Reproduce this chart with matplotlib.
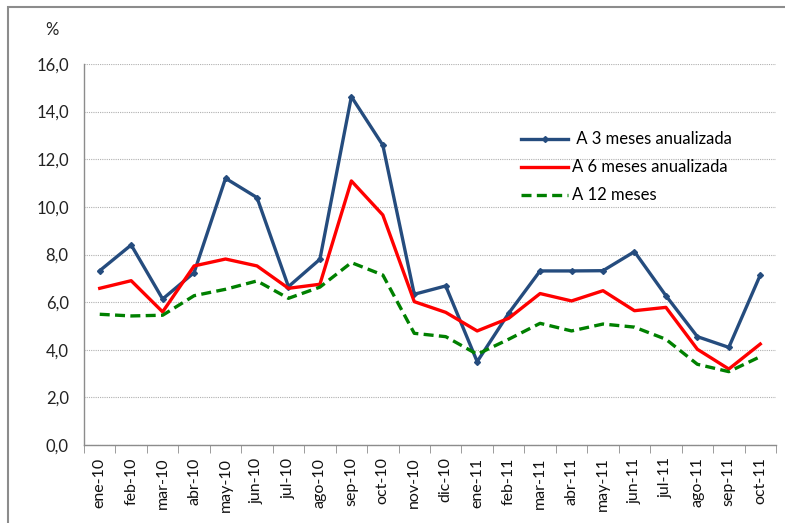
import matplotlib.pyplot as plt
from matplotlib.patches import Rectangle

plt.rcParams['font.family'] = ['Lato', 'DejaVu Sans']

# Datos
meses = ['ene-10', 'feb-10', 'mar-10', 'abr-10', 'may-10', 'jun-10', 'jul-10', 'ago-10',
         'sep-10', 'oct-10', 'nov-10', 'dic-10', 'ene-11', 'feb-11', 'mar-11', 'abr-11',
         'may-11', 'jun-11', 'jul-11', 'ago-11', 'sep-11', 'oct-11']
a3_meses = [7.32, 8.40, 6.13, 7.24, 11.20, 10.39, 6.65, 7.80, 14.63, 12.59, 6.33, 6.68,
            3.50, 5.53, 7.31, 7.31, 7.32, 8.12, 6.27, 4.55, 4.10, 7.14]
a6_meses = [6.58, 6.90, 5.59, 7.52, 7.81, 7.52, 6.58, 6.75, 11.09, 9.66, 6.02, 5.57,
            4.79, 5.32, 6.36, 6.05, 6.48, 5.64, 5.78, 4.02, 3.19, 4.24]
a12_meses = [5.49, 5.42, 5.45, 6.27, 6.54, 6.89, 6.16, 6.63, 7.66, 7.14, 4.69, 4.55,
             3.81, 4.44, 5.11, 4.79, 5.08, 4.95, 4.44, 3.39, 3.08, 3.71]
yticks = [0, 2, 4, 6, 8, 10, 12, 14, 16]

fig = plt.figure(figsize=(7.85, 5.23), dpi=100)
ax = fig.add_axes([84 / 785, 1 - 445 / 523, 692 / 785, 381 / 523])

# Marco exterior (recortado a la derecha y abajo)
fig.patches.append(Rectangle((8 / 785, -0.1), 1.2, 1 - 7 / 523 + 0.1, transform=fig.transFigure,
                             fill=False, edgecolor='#8c8c8c', linewidth=1.5, clip_on=False))

x = list(range(len(meses)))
ax.plot(x, a3_meses, color='#254C7E', linewidth=2.4, marker='D', markersize=3,
        label=' A 3 meses anualizada')
ax.plot(x, a6_meses, color='#FF0000', linewidth=2.4, label='A 6 meses anualizada')
ax.plot(x, a12_meses, color='#008000', linewidth=2.4, linestyle=(0, (3, 1.6)),
        label='A 12 meses')

ax.set_xlim(-0.5, len(meses) - 0.5)
ax.set_ylim(0, 16)
ax.set_yticks(yticks)
ax.set_yticklabels([f'{v:.1f}'.replace('.', ',') for v in yticks], fontsize=12, color='#222222')
ax.set_xticks(x)
ax.set_xticklabels(meses, rotation=90, fontsize=11.5, color='#111111')
ax.set_xticks([i - 0.5 for i in range(len(meses) + 1)], minor=True)
ax.tick_params(axis='x', which='major', length=0, pad=9)
ax.tick_params(axis='x', which='minor', length=6, color='#8c8c8c', direction='out')
ax.tick_params(axis='y', length=0, pad=11)

ax.grid(axis='y', color='#b0b0b0', linestyle=(0, (1, 1)), linewidth=0.8)
ax.set_axisbelow(True)
for s in ['top', 'right']:
    ax.spines[s].set_visible(False)
for s in ['left', 'bottom']:
    ax.spines[s].set_color('#8c8c8c')
    ax.spines[s].set_linewidth(1.0)

fig.text(52 / 785, 1 - 30 / 523, '%', fontsize=12, ha='center', va='center', color='#222222')

ax.legend(loc='upper left', bbox_to_anchor=(0.62, 0.845), frameon=False, fontsize=12,
          handlelength=2.8, handletextpad=0.25, labelspacing=0.72, borderpad=0, numpoints=1)

fig.savefig('out.png', dpi=100)
